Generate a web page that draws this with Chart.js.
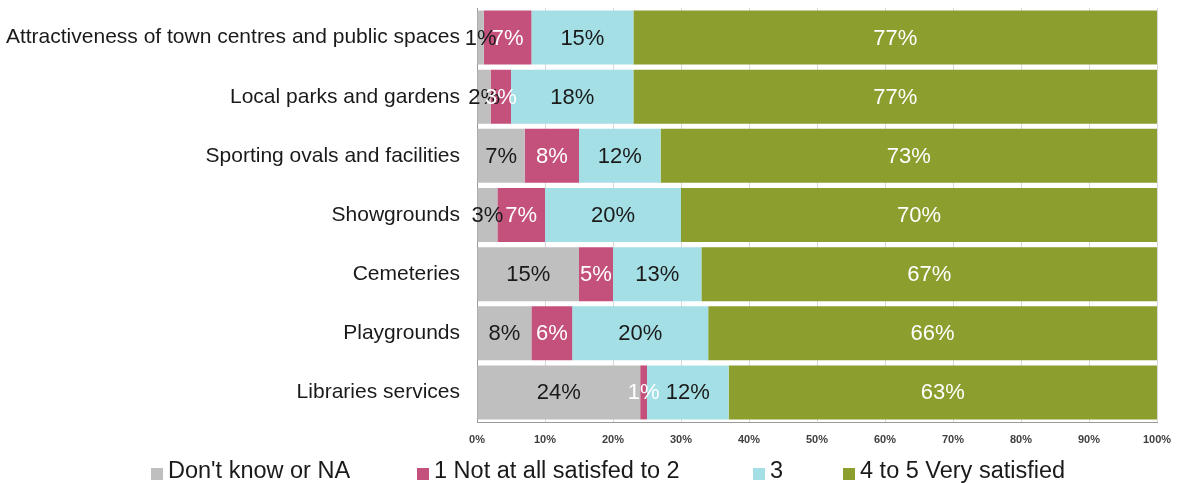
<!DOCTYPE html>
<html>
<head>
<meta charset="utf-8">
<script src="https://cdn.jsdelivr.net/npm/chart.js@4.4.1/dist/chart.umd.min.js"></script>
<style>
  html, body { margin: 0; padding: 0; background: #fff; }
  #wrap { width: 1180px; height: 483px; }
</style>
</head>
<body>
<div id="wrap"><canvas id="chart" width="1180" height="483"></canvas></div>
<script>
// satisfaction with services, percent of respondents
const categories = [
  "Attractiveness of town centres and public spaces",
  "Local parks and gardens",
  "Sporting ovals and facilities",
  "Showgrounds",
  "Cemeteries",
  "Playgrounds",
  "Libraries services"
]
const seriesNames = ["Don't know or NA", "1 Not at all satisfed to 2", "3", "4 to 5 Very satisfied"]
const dontKnow = [1, 2, 7, 3, 15, 8, 24]
const notSatisfied = [7, 3, 8, 7, 5, 6, 1]
const neutral = [15, 18, 12, 20, 13, 20, 12]
const verySatisfied = [77, 77, 73, 70, 67, 66, 63]
const xTicks = [0, 10, 20, 30, 40, 50, 60, 70, 80, 90, 100]

const fill = ["#bfbfbf", "#c4507c", "#a5dfe6", "#8b9e2e"]
const labelColor = ["#1a1a1a", "#ffffff", "#1a1a1a", "#ffffff"]
const font = "'Liberation Sans', Arial, sans-serif"
// left edge of each legend entry
const legendX = [151, 417, 753, 843]

// writes the % value in the middle of every bar segment
const barLabels = {
  id: "barLabels",
  afterDatasetsDraw(chart){
    let ctx = chart.ctx
    ctx.save()
    ctx.font = "22px " + font
    ctx.textAlign = "center"
    ctx.textBaseline = "middle"
    chart.data.datasets.forEach((ds, i) => {
      let meta = chart.getDatasetMeta(i)
      meta.data.forEach((bar, j) => {
        ctx.fillStyle = labelColor[i]
        ctx.fillText(ds.data[j] + "%", (bar.x + bar.base) / 2, bar.y + 1)
      })
    })
    ctx.restore()
  }
}

// legend row under the axis, entries spaced like the original
const bottomLegend = {
  id: "bottomLegend",
  afterDraw(chart){
    let ctx = chart.ctx
    ctx.save()
    ctx.font = "23.5px " + font
    ctx.textBaseline = "middle"
    ctx.textAlign = "left"
    chart.data.datasets.forEach((ds, i) => {
      let x = legendX[i]
      ctx.fillStyle = ds.backgroundColor
      ctx.fillRect(x, 468, 12, 12)
      ctx.fillStyle = "#1a1a1a"
      ctx.fillText(ds.label, x + 17, 472)
    })
    ctx.restore()
  }
}

let values = [dontKnow, notSatisfied, neutral, verySatisfied]
let datasets = values.map((v, i) => ({
  label: seriesNames[i],
  data: v,
  backgroundColor: fill[i],
  borderWidth: 0,
  barPercentage: 0.913,
  categoryPercentage: 1
}))

new Chart(document.getElementById("chart"), {
  type: "bar",
  data: { labels: categories, datasets: datasets },
  options: {
    indexAxis: "y",
    responsive: false,
    animation: false,
    layout: { padding: { top: 8, right: 23, left: 0, bottom: 37 } },
    plugins: {
      tooltip: { enabled: false },
      legend: { display: false }
    },
    scales: {
      x: {
        stacked: true,
        min: 0,
        max: 100,
        afterBuildTicks: scale => { scale.ticks = xTicks.map(v => ({ value: v })) },
        afterFit: scale => {
          scale.height = 24
          scale.paddingLeft = 0
          scale.paddingRight = 0
        },
        ticks: {
          callback: v => v + "%",
          color: "#404040",
          font: { family: font, size: 11, weight: "bold" },
          padding: 11,
          maxRotation: 0
        },
        grid: { color: "#d9d9d9", drawTicks: false },
        border: { color: "#9a9a9a" }
      },
      y: {
        stacked: true,
        afterFit: scale => {
          scale.width = 477
          scale.paddingTop = 0
          scale.paddingBottom = 0
        },
        ticks: {
          color: "#1a1a1a",
          font: { family: font, size: 21 },
          padding: 17
        },
        grid: { display: false, drawTicks: false },
        border: { color: "#9a9a9a" }
      }
    }
  },
  plugins: [barLabels, bottomLegend]
})
</script>
</body>
</html>
